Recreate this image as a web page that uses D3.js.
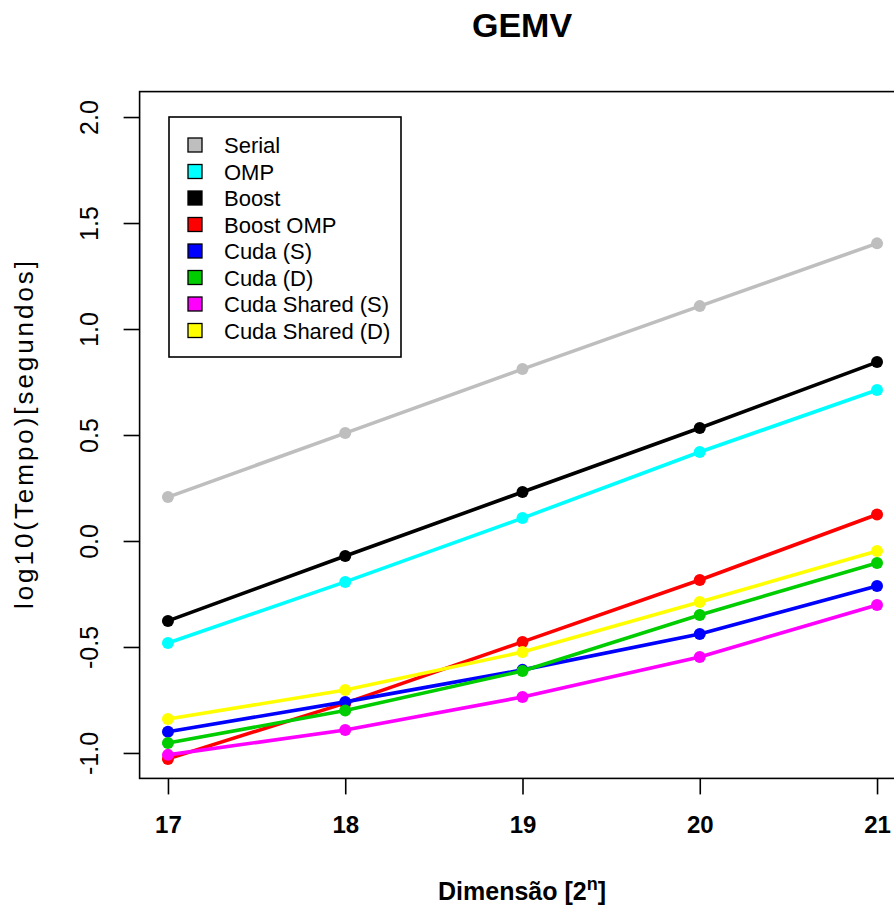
<!DOCTYPE html>
<html>
<head>
<meta charset="utf-8">
<script src="https://cdn.jsdelivr.net/npm/d3@7"></script>
<style>
  html, body { margin: 0; padding: 0; background: #fff; }
  svg { display: block; }
  text { font-family: "Liberation Sans", Arial, sans-serif; }
</style>
</head>
<body>
<div id="chart"></div>
<script>
const dims = [17, 18, 19, 20, 21];
const seriesNames = ["Serial", "OMP", "Boost", "Boost OMP", "Cuda (S)", "Cuda (D)", "Cuda Shared (S)", "Cuda Shared (D)"];
const seriesColors = ["#BEBEBE", "#00FFFF", "#000000", "#FF0000", "#0000FF", "#00CD00", "#FF00FF", "#FFFF00"];
const serial      = [0.207, 0.509, 0.811, 1.108, 1.404];
const omp         = [-0.481, -0.193, 0.108, 0.420, 0.712];
const boost       = [-0.377, -0.071, 0.231, 0.533, 0.844];
const boostOmp    = [-1.028, -0.765, -0.476, -0.184, 0.125];
const cudaS       = [-0.900, -0.759, -0.608, -0.439, -0.212];
const cudaD       = [-0.953, -0.800, -0.613, -0.349, -0.104];
const cudaSharedS = [-1.009, -0.892, -0.736, -0.547, -0.302];
const cudaSharedD = [-0.840, -0.703, -0.524, -0.288, -0.047];
const yTicks = [-1.0, -0.5, 0.0, 0.5, 1.0, 1.5, 2.0];

const seriesValues = [serial, omp, boost, boostOmp, cudaS, cudaD, cudaSharedS, cudaSharedD];

const W = 894, H = 907;
const svg = d3.select("#chart").append("svg").attr("width", W).attr("height", H);

const x = d3.scaleLinear().domain([16.84, 21.16]).range([139.6, 905.4]);
const y = d3.scaleLinear().domain([-1.12, 2.12]).range([778.4, 91.6]);

// plot box
svg.append("rect")
  .attr("x", x(16.84)).attr("y", y(2.12))
  .attr("width", x(21.16) - x(16.84)).attr("height", y(-1.12) - y(2.12))
  .attr("fill", "none").attr("stroke", "#000").attr("stroke-width", 1.6);

// x axis
const xAxis = svg.append("g").attr("transform", `translate(0,${y(-1.12)})`)
  .call(d3.axisBottom(x).tickValues(dims).tickFormat(d3.format("d")).tickSize(16).tickPadding(22));
xAxis.select(".domain").remove();
xAxis.selectAll("line").attr("stroke", "#000").attr("stroke-width", 1.6);
xAxis.selectAll("text").attr("font-size", 24).attr("font-weight", "bold").attr("fill", "#000")
  .attr("font-family", "Liberation Sans, Arial, sans-serif");

// y axis
const yAxis = svg.append("g").attr("transform", `translate(${x(16.84)},0)`)
  .call(d3.axisLeft(y).tickValues(yTicks).tickFormat(d3.format(".1f")).tickSize(16));
yAxis.select(".domain").remove();
yAxis.selectAll("line").attr("stroke", "#000").attr("stroke-width", 1.6);
yAxis.selectAll("text").remove();
yAxis.selectAll(".tick").append("text")
  .attr("transform", "translate(-42,0) rotate(-90)")
  .attr("text-anchor", "middle")
  .attr("font-size", 25).attr("fill", "#000")
  .attr("font-family", "Liberation Sans, Arial, sans-serif")
  .text(d => d3.format(".1f")(d).replace("−", "-"));

// series lines and points
const line = d3.line().x((d, i) => x(dims[i])).y(d => y(d));
seriesValues.forEach((vals, k) => {
  svg.append("path").datum(vals)
    .attr("d", line).attr("fill", "none")
    .attr("stroke", seriesColors[k]).attr("stroke-width", 3.6);
  svg.append("g").selectAll("circle").data(vals).join("circle")
    .attr("cx", (d, i) => x(dims[i])).attr("cy", d => y(d))
    .attr("r", 6).attr("fill", seriesColors[k]);
});

// title
svg.append("text").attr("x", 522).attr("y", 37).attr("text-anchor", "middle")
  .attr("font-size", 34).attr("font-weight", "bold").text("GEMV");

// x label
const xl = svg.append("text").attr("x", 522).attr("y", 900).attr("text-anchor", "middle")
  .attr("font-size", 25).attr("font-weight", "bold");
xl.append("tspan").text("Dimensão [2");
xl.append("tspan").attr("dy", -10).attr("font-size", 18).text("n");
xl.append("tspan").attr("dy", 10).text("]");

// y label
svg.append("text").attr("transform", `translate(33,${(y(2.12) + y(-1.12)) / 2}) rotate(-90)`)
  .attr("text-anchor", "middle").attr("font-size", 26)
  .attr("textLength", 348).attr("lengthAdjust", "spacing")
  .text("log10(Tempo)[segundos]");

// legend
const lg = svg.append("g");
lg.append("rect").attr("x", 169).attr("y", 117).attr("width", 232).attr("height", 240)
  .attr("fill", "#fff").attr("stroke", "#000").attr("stroke-width", 1.6);
seriesNames.forEach((name, i) => {
  const cy = 145 + i * 26.5;
  lg.append("rect").attr("x", 188).attr("y", cy - 7).attr("width", 14).attr("height", 14)
    .attr("fill", seriesColors[i]).attr("stroke", "#000").attr("stroke-width", 1.3);
  lg.append("text").attr("x", 224).attr("y", cy + 8).attr("font-size", 22).text(name);
});
</script>
</body>
</html>
